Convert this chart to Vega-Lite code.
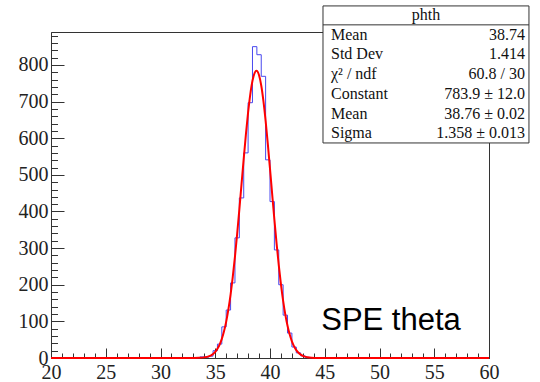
{
  "$schema": "https://vega.github.io/schema/vega-lite/v6.json",
  "width": 438,
  "height": 326,
  "autosize": "none",
  "padding": {"left": 51, "top": 32, "right": 51, "bottom": 24},
  "background": "white",
  "config": {
    "view": {"stroke": "#333", "strokeWidth": 1},
    "axis": {"labelFont": "Liberation Serif", "labelFontSize": 20, "labelColor": "#222", "grid": false, "domainColor": "#333", "tickColor": "#333", "title": null, "labelOverlap": false, "labelFlush": false}
  },
  "datasets": {
    "hist": [
      {"x": 20.0, "n": 0}, {"x": 20.4, "n": 0}, {"x": 20.8, "n": 0}, {"x": 21.2, "n": 0}, {"x": 21.6, "n": 0},
      {"x": 22.0, "n": 0}, {"x": 22.4, "n": 0}, {"x": 22.8, "n": 0}, {"x": 23.2, "n": 0}, {"x": 23.6, "n": 0},
      {"x": 24.0, "n": 0}, {"x": 24.4, "n": 0}, {"x": 24.8, "n": 0}, {"x": 25.2, "n": 0}, {"x": 25.6, "n": 0},
      {"x": 26.0, "n": 0}, {"x": 26.4, "n": 0}, {"x": 26.8, "n": 0}, {"x": 27.2, "n": 0}, {"x": 27.6, "n": 0},
      {"x": 28.0, "n": 0}, {"x": 28.4, "n": 0}, {"x": 28.8, "n": 0}, {"x": 29.2, "n": 0}, {"x": 29.6, "n": 0},
      {"x": 30.0, "n": 0}, {"x": 30.4, "n": 0}, {"x": 30.8, "n": 0}, {"x": 31.2, "n": 0}, {"x": 31.6, "n": 0},
      {"x": 32.0, "n": 0}, {"x": 32.4, "n": 0}, {"x": 32.8, "n": 0}, {"x": 33.2, "n": 1}, {"x": 33.6, "n": 3},
      {"x": 34.0, "n": 2}, {"x": 34.4, "n": 5}, {"x": 34.8, "n": 20}, {"x": 35.2, "n": 38}, {"x": 35.6, "n": 85},
      {"x": 36.0, "n": 131}, {"x": 36.4, "n": 205}, {"x": 36.8, "n": 328}, {"x": 37.2, "n": 437}, {"x": 37.6, "n": 560},
      {"x": 38.0, "n": 697}, {"x": 38.4, "n": 850}, {"x": 38.8, "n": 828}, {"x": 39.2, "n": 769}, {"x": 39.6, "n": 541},
      {"x": 40.0, "n": 427}, {"x": 40.4, "n": 295}, {"x": 40.8, "n": 200}, {"x": 41.2, "n": 117}, {"x": 41.6, "n": 68},
      {"x": 42.0, "n": 30}, {"x": 42.4, "n": 14}, {"x": 42.8, "n": 6}, {"x": 43.2, "n": 2}, {"x": 43.6, "n": 1},
      {"x": 44.0, "n": 0}, {"x": 44.4, "n": 0}, {"x": 44.8, "n": 0}, {"x": 45.2, "n": 0}, {"x": 45.6, "n": 0},
      {"x": 46.0, "n": 0}, {"x": 46.4, "n": 0}, {"x": 46.8, "n": 0}, {"x": 47.2, "n": 0}, {"x": 47.6, "n": 0},
      {"x": 48.0, "n": 0}, {"x": 48.4, "n": 0}, {"x": 48.8, "n": 0}, {"x": 49.2, "n": 0}, {"x": 49.6, "n": 0},
      {"x": 50.0, "n": 0}, {"x": 50.4, "n": 0}, {"x": 50.8, "n": 0}, {"x": 51.2, "n": 0}, {"x": 51.6, "n": 0},
      {"x": 52.0, "n": 0}, {"x": 52.4, "n": 0}, {"x": 52.8, "n": 0}, {"x": 53.2, "n": 0}, {"x": 53.6, "n": 0},
      {"x": 54.0, "n": 0}, {"x": 54.4, "n": 0}, {"x": 54.8, "n": 0}, {"x": 55.2, "n": 0}, {"x": 55.6, "n": 0},
      {"x": 56.0, "n": 0}, {"x": 56.4, "n": 0}, {"x": 56.8, "n": 0}, {"x": 57.2, "n": 0}, {"x": 57.6, "n": 0},
      {"x": 58.0, "n": 0}, {"x": 58.4, "n": 0}, {"x": 58.8, "n": 0}, {"x": 59.2, "n": 0}, {"x": 59.6, "n": 0},
      {"x": 60.0, "n": 0}
    ],
    "fit": [
      {"x": 20, "f": 0}, {"x": 32.5, "f": 0}, {"x": 33.0, "f": 0.1}, {"x": 33.5, "f": 0.4}, {"x": 34.0, "f": 1.7},
      {"x": 34.4, "f": 4.5}, {"x": 34.8, "f": 11.2}, {"x": 35.0, "f": 17.0}, {"x": 35.2, "f": 25.3}, {"x": 35.4, "f": 36.7},
      {"x": 35.6, "f": 52.3}, {"x": 35.8, "f": 72.9}, {"x": 36.0, "f": 99.4}, {"x": 36.2, "f": 132.6}, {"x": 36.4, "f": 173.2},
      {"x": 36.6, "f": 221.2}, {"x": 36.8, "f": 276.6}, {"x": 37.0, "f": 338.5}, {"x": 37.2, "f": 405.3}, {"x": 37.4, "f": 474.7},
      {"x": 37.6, "f": 544.3}, {"x": 37.8, "f": 610.6}, {"x": 38.0, "f": 670.3}, {"x": 38.2, "f": 720.0}, {"x": 38.4, "f": 756.9},
      {"x": 38.6, "f": 778.5}, {"x": 38.76, "f": 783.9}, {"x": 39.0, "f": 771.8}, {"x": 39.2, "f": 743.9}, {"x": 39.4, "f": 701.5},
      {"x": 39.6, "f": 647.4}, {"x": 39.8, "f": 584.6}, {"x": 40.0, "f": 516.7}, {"x": 40.2, "f": 446.8}, {"x": 40.4, "f": 378.1},
      {"x": 40.6, "f": 313.1}, {"x": 40.8, "f": 253.7}, {"x": 41.0, "f": 201.2}, {"x": 41.2, "f": 156.1}, {"x": 41.4, "f": 118.5},
      {"x": 41.6, "f": 88.0}, {"x": 41.8, "f": 64.0}, {"x": 42.0, "f": 45.5}, {"x": 42.2, "f": 31.7}, {"x": 42.4, "f": 21.6},
      {"x": 42.6, "f": 14.4}, {"x": 42.8, "f": 9.4}, {"x": 43.0, "f": 6.0}, {"x": 43.2, "f": 3.7}, {"x": 43.4, "f": 2.3},
      {"x": 43.8, "f": 0.8}, {"x": 44.5, "f": 0.1}, {"x": 45.0, "f": 0}, {"x": 60, "f": 0}
    ],
    "stats": [
      {"row": 1, "label": "Mean", "value": "38.74"},
      {"row": 2, "label": "Std Dev", "value": "1.414"},
      {"row": 3, "label": "χ² / ndf", "value": "60.8 / 30"},
      {"row": 4, "label": "Constant", "value": "783.9 ± 12.0"},
      {"row": 5, "label": "Mean", "value": "38.76 ± 0.02"},
      {"row": 6, "label": "Sigma", "value": "1.358 ± 0.013"}
    ],
    "title": [{"name": "phth", "note": "SPE theta"}]
  },
  "layer": [
    {
      "data": {"name": "hist"},
      "mark": {"type": "line", "interpolate": "step-after", "color": "#4848ee", "strokeWidth": 1},
      "encoding": {
        "x": {"field": "x", "type": "quantitative", "scale": {"domain": [20, 60], "nice": false, "zero": false},
              "axis": {"orient": "bottom", "values": [20, 25, 30, 35, 40, 45, 50, 55, 60], "tickSize": -10, "labelPadding": 14, "domain": true}},
        "y": {"field": "n", "type": "quantitative", "scale": {"domain": [0, 890], "nice": false},
              "axis": {"orient": "left", "values": [0, 100, 200, 300, 400, 500, 600, 700, 800], "tickSize": -13, "labelPadding": 16, "domain": true}}
      }
    },
    {
      "data": {"name": "fit"},
      "mark": {"type": "line", "interpolate": "monotone", "color": "#ff0000", "strokeWidth": 2},
      "encoding": {
        "x": {"field": "x", "type": "quantitative", "scale": {"domain": [20, 60], "nice": false, "zero": false},
              "axis": {"orient": "bottom", "values": [20,21,22,23,24,25,26,27,28,29,30,31,32,33,34,35,36,37,38,39,40,41,42,43,44,45,46,47,48,49,50,51,52,53,54,55,56,57,58,59,60], "tickSize": -5, "labels": false, "domain": false}},
        "y": {"field": "f", "type": "quantitative", "scale": {"domain": [0, 890], "nice": false},
              "axis": {"orient": "left", "values": [0,20,40,60,80,100,120,140,160,180,200,220,240,260,280,300,320,340,360,380,400,420,440,460,480,500,520,540,560,580,600,620,640,660,680,700,720,740,760,780,800,820,840,860,880], "tickSize": -6.5, "labels": false, "domain": false}}
      }
    },
    {
      "data": {"name": "title"},
      "mark": {"type": "text", "font": "Liberation Sans", "fontSize": 31, "align": "center", "baseline": "alphabetic", "color": "#000"},
      "encoding": {
        "x": {"datum": 51.05, "type": "quantitative", "scale": {"domain": [20, 60], "nice": false, "zero": false}, "axis": null},
        "y": {"datum": 76.5, "type": "quantitative", "scale": {"domain": [0, 890], "nice": false}, "axis": null},
        "text": {"field": "note"}
      }
    },
    {
      "data": {"name": "title"},
      "mark": {"type": "rect", "fill": "white", "stroke": "#333", "strokeWidth": 1},
      "encoding": {
        "x": {"datum": 44.84, "type": "quantitative", "scale": {"domain": [20, 60], "nice": false, "zero": false}, "axis": null},
        "x2": {"datum": 63.65},
        "y": {"datum": -0.46, "type": "quantitative", "scale": {"domain": [0, 6], "range": [-17, 101.3], "nice": false, "zero": false}, "axis": null},
        "y2": {"datum": 6.49}
      }
    },
    {
      "data": {"name": "title"},
      "mark": {"type": "rule", "stroke": "#333", "strokeWidth": 1},
      "encoding": {
        "x": {"datum": 44.84, "type": "quantitative", "scale": {"domain": [20, 60], "nice": false, "zero": false}, "axis": null},
        "x2": {"datum": 63.65},
        "y": {"datum": 0.5, "type": "quantitative", "scale": {"domain": [0, 6], "range": [-17, 101.3], "nice": false, "zero": false}, "axis": null}
      }
    },
    {
      "data": {"name": "title"},
      "mark": {"type": "text", "font": "Liberation Serif", "fontSize": 16, "align": "center", "baseline": "middle", "color": "#111"},
      "encoding": {
        "x": {"datum": 54.25, "type": "quantitative", "scale": {"domain": [20, 60], "nice": false, "zero": false}, "axis": null},
        "y": {"datum": 0, "type": "quantitative", "scale": {"domain": [0, 6], "range": [-17, 101.3], "nice": false, "zero": false}, "axis": null},
        "text": {"field": "name"}
      }
    },
    {
      "data": {"name": "stats"},
      "mark": {"type": "text", "font": "Liberation Serif", "fontSize": 16, "align": "left", "baseline": "middle", "color": "#111"},
      "encoding": {
        "x": {"datum": 45.57, "type": "quantitative", "scale": {"domain": [20, 60], "nice": false, "zero": false}, "axis": null},
        "y": {"field": "row", "type": "quantitative", "scale": {"domain": [0, 6], "range": [-17, 101.3], "nice": false, "zero": false}, "axis": null},
        "text": {"field": "label"}
      }
    },
    {
      "data": {"name": "stats"},
      "mark": {"type": "text", "font": "Liberation Serif", "fontSize": 16, "align": "right", "baseline": "middle", "color": "#111"},
      "encoding": {
        "x": {"datum": 63.29, "type": "quantitative", "scale": {"domain": [20, 60], "nice": false, "zero": false}, "axis": null},
        "y": {"field": "row", "type": "quantitative", "scale": {"domain": [0, 6], "range": [-17, 101.3], "nice": false, "zero": false}, "axis": null},
        "text": {"field": "value"}
      }
    }
  ],
  "resolve": {"scale": {"y": "independent"}, "axis": {"x": "independent", "y": "independent"}}
}
